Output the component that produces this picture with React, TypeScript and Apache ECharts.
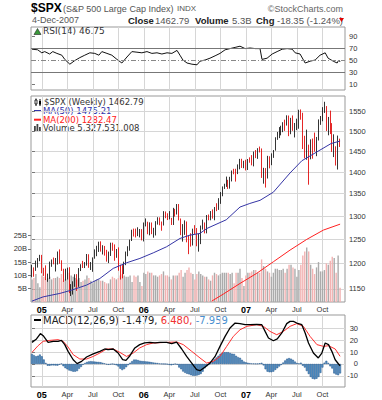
import React, { useEffect, useRef } from 'react';
import * as echarts from 'echarts';

// Weekly bars, index 0 = week of 2004-11-29, index 157 = week of 2007-12-03
const opens = [1182.65,1191.17,1188.00,1194.20,1210.13,
1211.92,1186.19,1184.52,1167.87,1171.36,1203.03,1205.30,1201.59,1211.37,1222.12,1200.08,1189.65,1171.42,1172.92,1191.14,1142.62,1152.12,1156.85,1171.35,1154.05,1189.28,1198.78,1196.02,1200.93,1216.96,1191.57,1194.44,1211.86,1227.92,1229.03,1234.18,1226.42,1230.39,1219.71,1205.10,1218.02,1241.48,1237.91,1215.29,1228.81,1195.90,1186.57,1179.59,1198.41,1220.14,1234.72,1248.27,1268.25,1265.08,1259.37,1267.32,1268.66,
1248.29,1285.45,1287.61,1261.49,1283.72,1264.03,1266.99,1287.24,1289.43,1287.23,1281.42,1307.25,1302.95,1294.83,1295.50,1289.12,1311.28,1310.61,1325.76,1291.24,1267.03,1280.16,1288.22,1252.30,1251.54,1244.50,1270.20,1265.48,1236.20,1240.29,1278.55,1279.36,1266.74,1302.30,1295.09,1311.01,1298.92,1319.66,1314.78,1335.85,1349.59,1365.62,1368.60,1377.34,1364.30,1380.90,1401.20,1400.95,1396.71,1409.84,1427.09,1410.76,
1418.30,1409.71,1430.73,1430.50,1422.18,1448.39,1438.06,1455.54,1451.19,1387.17,1402.84,1386.95,1436.11,1420.86,1443.76,1452.85,1484.35,1494.07,1505.62,1505.85,1522.75,1515.73,1536.34,1507.67,1532.91,1502.56,1503.35,1530.44,1552.50,1534.10,1458.95,1433.06,1453.64,1445.94,1479.37,1473.99,1453.55,1484.25,1525.75,1526.75,1557.59,1561.80,1500.63,1535.28,1509.65,1453.70,1458.74,1440.70,1481.14];
const highs = [1197.5,1192.4,1206.0,1211.4,1217.9,
1217.8,1191.6,1196.5,1180.0,1204.1,1208.4,1212.4,1211.4,1224.8,1229.1,1206.8,1189.7,1189.8,1191.9,1192.8,1159.3,1164.8,1178.7,1178.9,1191.1,1198.8,1205.6,1203.2,1219.6,1219.1,1203.3,1212.7,1229.2,1236.6,1245.2,1245.9,1237.8,1236.3,1228.2,1224.6,1243.1,1243.1,1239.5,1229.9,1233.3,1197.8,1197.1,1204.0,1224.7,1235.7,1249.6,1270.6,1272.9,1272.9,1275.8,1272.0,1271.8,
1286.1,1294.9,1287.8,1286.4,1286.1,1274.6,1289.0,1297.6,1297.2,1288.2,1310.9,1310.2,1306.2,1311.0,1296.1,1318.2,1316.0,1326.7,1326.7,1294.8,1282.6,1290.7,1288.3,1258.6,1263.0,1272.8,1280.4,1274.1,1262.0,1279.6,1292.3,1286.2,1302.4,1303.5,1311.1,1314.7,1320.0,1328.5,1339.9,1353.8,1366.6,1372.9,1389.5,1381.9,1388.9,1403.8,1407.9,1407.9,1418.3,1431.6,1431.8,1427.0,
1429.4,1431.2,1435.3,1440.7,1449.3,1453.0,1457.6,1461.6,1456.9,1410.2,1409.5,1438.9,1437.8,1444.9,1453.1,1484.7,1498.0,1510.3,1513.8,1522.8,1529.3,1540.6,1540.0,1534.0,1540.2,1520.8,1531.9,1555.1,1555.9,1547.2,1488.3,1503.9,1466.3,1479.4,1481.5,1496.4,1485.4,1530.0,1538.7,1561.9,1576.1,1564.7,1536.3,1552.8,1520.5,1492.1,1462.2,1488.9,1481.2];
const lows = [1172.8,1173.8,1185.5,1192.0,1204.9,
1180.6,1175.4,1167.2,1163.8,1169.5,1193.6,1198.6,1184.2,1198.1,1199.7,1185.4,1163.7,1166.2,1168.2,1141.9,1136.2,1139.1,1154.0,1146.2,1154.0,1185.1,1191.2,1191.1,1196.0,1191.5,1187.2,1183.6,1210.0,1215.1,1223.9,1224.5,1218.6,1216.3,1204.0,1201.1,1215.6,1226.2,1205.8,1211.8,1185.7,1168.2,1170.6,1178.9,1196.9,1215.1,1226.4,1246.6,1256.1,1254.1,1256.9,1254.2,1247.9,
1245.7,1277.6,1260.9,1258.6,1261.0,1253.6,1258.3,1281.5,1280.1,1268.4,1279.6,1295.4,1291.4,1292.9,1280.7,1280.7,1298.9,1303.5,1290.5,1259.0,1245.3,1259.6,1243.9,1219.3,1234.9,1237.2,1261.5,1235.6,1224.5,1240.1,1270.8,1262.7,1262.8,1290.8,1290.9,1294.5,1290.9,1310.9,1313.7,1327.1,1344.2,1360.9,1365.6,1360.9,1361.6,1378.2,1394.9,1377.8,1395.3,1406.6,1409.9,1409.2,
1403.9,1405.0,1422.3,1416.0,1413.6,1433.4,1431.6,1447.2,1386.4,1373.0,1364.0,1385.0,1408.9,1416.4,1434.0,1451.5,1478.2,1482.5,1489.5,1497.5,1500.6,1514.2,1487.4,1492.3,1500.8,1484.2,1502.6,1506.1,1529.2,1455.5,1432.8,1429.4,1370.6,1430.5,1432.0,1449.1,1438.1,1476.6,1516.0,1525.2,1546.7,1500.5,1489.6,1492.7,1448.5,1435.9,1415.6,1406.1,1460.6];
const closes = [1191.17,1188.00,1194.20,1210.13,1211.92,
1186.19,1184.52,1167.87,1171.36,1203.03,1205.30,1201.59,1211.37,1222.12,1200.08,1189.65,1171.42,1172.92,1191.14,1142.62,1152.12,1156.85,1171.35,1154.05,1189.28,1198.78,1196.02,1200.93,1216.96,1191.57,1194.44,1211.86,1227.92,1229.03,1234.18,1226.42,1230.39,1219.71,1205.10,1218.02,1241.48,1237.91,1215.29,1228.81,1195.90,1186.57,1179.59,1198.41,1220.14,1234.72,1248.27,1268.25,1265.08,1259.37,1267.32,1268.66,1248.29,
1285.45,1287.61,1261.49,1283.72,1264.03,1266.99,1287.24,1289.43,1287.23,1281.42,1307.25,1302.95,1294.83,1295.50,1289.12,1311.28,1310.61,1325.76,1291.24,1267.03,1280.16,1288.22,1252.30,1251.54,1244.50,1270.20,1265.48,1236.20,1240.29,1278.55,1279.36,1266.74,1302.30,1295.09,1311.01,1298.92,1319.66,1314.78,1335.85,1349.59,1365.62,1368.60,1377.34,1364.30,1380.90,1401.20,1400.95,1396.71,1409.84,1427.09,1410.76,1418.30,
1409.71,1430.73,1430.50,1422.18,1448.39,1438.06,1455.54,1451.19,1387.17,1402.84,1386.95,1436.11,1420.86,1443.76,1452.85,1484.35,1494.07,1505.62,1505.85,1522.75,1515.73,1536.34,1507.67,1532.91,1502.56,1503.35,1530.44,1552.50,1534.10,1458.95,1433.06,1453.64,1445.94,1479.37,1473.99,1453.55,1484.25,1525.75,1526.75,1557.59,1561.80,1500.63,1535.28,1509.65,1453.70,1458.74,1440.70,1481.14,1462.79];
// weekly volume, billions of shares
const volumes = [8.5,9,10.5,7,5.5,
10,9.5,8.5,9, 9.5,8.5,9,9, 9.5,9,10.5,8,8.5, 8.5,11,10,9.5, 9,8.5,9,7.5, 8,8.5,10,9,8, 7,8,8.5,8.5, 8,8,7.5,7, 7,8.5,9.5,9,8.5, 9,10,10.5,10, 9.5,9.5,10,7.5, 10,9.5,10,7.5,6,
11,10.5,11.5,11, 11,10,10,9.5, 10,10.5,11.5,10,10, 9.5,8.5,10,10, 10,11,12,9.5, 11,12,13,11,10.5, 8.5,10.5,11.5,10.5, 10,9.5,9.5,8.5, 8,10,11,10.5,10, 10.5,11,11,11, 11,10.5,11,7, 11,11,12.5,9,6,
10,11,11,11.5, 12,12,11,11, 16,13.5,12.5,11.5,11, 9.5,11,12.5,12.5, 12,12,12.5,11, 12.5,14,14,13,12.5, 9.5,12,14,17.5, 19,20.5,19,14,12.5, 10.5,13,15,11.5, 11.5,12,14.5,14, 15.5,17,16.5,11,17.5, 5.33];
// moving averages [week index, price]
const ma50 = [[0,1126.6],[5.7,1134.7],[14.2,1141.3],[20.2,1147.6],[27.8,1157.4],[34.6,1170.4],[41.4,1190.4],[48.2,1201.7],[55,1210.6],[61.8,1222],[68.6,1234.6],[75.4,1252],[80.5,1259],[85.6,1262.6],[89,1273],[99,1292],[106,1320],[111,1328],[116.2,1335],[123,1353.5],[131.5,1398],[137.5,1427],[145.2,1448.5],[152.4,1469],[157,1475.21]];
const ma200 = [[91.6,1126.6],[97.5,1140],[106,1160.6],[114.5,1180.5],[123,1203.8],[131.5,1227.7],[140,1250],[148.5,1269.8],[157,1282.47]];
const rsi = [[0,68],[2.9,67],[5,62],[6.5,64],[9,60],[10.6,64],[12.7,61],[15.2,58],[16.7,51],[19.3,43],[21.8,49],[24.4,54],[26.9,58],[29.5,62],[32,61],[34.1,58],[35.6,64],[38.2,61],[40.7,58],[43.3,51],[45.8,45],[48.4,55],[50.9,64],[53.5,63],[56,62],[58.6,64],[61.1,61],[63.7,62],[66.2,60],[68.8,62],[71.3,61],[73.9,66],[75.4,58],[76.9,50],[79,45],[81.5,43],[84.1,42],[85.6,48],[88.2,50],[90.7,53],[93.3,57],[95.8,61],[98.4,67],[100.9,69],[103.5,71],[106,73],[108.6,69],[111.1,70],[113.8,69],[116.2,69],[117.2,51],[119.8,53],[122.4,60],[124.9,64],[127.5,68],[130,69],[132.6,68],[134.1,62],[136.6,60],[139.2,45],[141.7,48],[144.3,50],[146.8,58],[149.4,62],[150.9,53],[153.5,48],[155.5,45],[156.3,50],[157,46.75]];
const macd = [[0,18.3],[2.3,21.2],[4.3,25.7],[5.7,24],[8.2,18.3],[10.8,19.2],[13.3,19.2],[15,20],[16.7,16.4],[18.4,10.7],[21,3.6],[23,0.3],[25.3,2.2],[27.8,5.9],[31.2,8.5],[34.6,10.7],[37.1,12.7],[38.8,12.1],[41.4,12.7],[43.9,9.3],[46.2,3.6],[47.9,3.1],[49.9,7],[52.4,13.6],[54.9,16.4],[57.4,17.8],[60,18.3],[62.7,17.8],[65.2,18.3],[68.6,18.3],[71.2,17.2],[73.7,18.6],[76.3,12.7],[78.8,6.4],[81.4,0.8],[83.9,-4.8],[85.6,-5.7],[88.2,-2.5],[90.7,0.8],[93.3,6.4],[95.8,14.9],[98.4,23.4],[100.9,30.5],[103.5,34.7],[106,34.2],[108.6,33.3],[111.1,33.3],[114.5,33.6],[117.1,33.3],[118.8,27.6],[120.5,22],[123,19.7],[125,21.2],[127.3,26.3],[129.8,34.2],[131.5,36.1],[133.2,36.1],[134.9,34.7],[137.5,33.3],[139.2,26.3],[140.9,17.8],[143.4,9.3],[145.9,5.1],[147.7,9.3],[149.4,17.8],[151.1,16.4],[152.8,10.7],[154.5,3.6],[156.2,0],[157,-1.479]];
const signal = [[0,9.8],[3.1,15.5],[5.7,19.2],[9.1,20],[13.3,20.6],[15.9,19.2],[18.4,14.4],[21,7.9],[24.4,4.2],[27.8,4.2],[31.2,6.4],[34.6,9.3],[38,12.7],[41.4,12.7],[44.8,9.8],[48.2,6.4],[51.6,9.3],[54.9,13.6],[58.4,16.4],[61.8,17.8],[68.6,18.3],[73.7,18.6],[77.1,16.4],[81.4,10.7],[85.6,5.1],[89,0.8],[92.4,2.2],[95.8,6.4],[99.2,14.9],[102.6,23.4],[106,29],[109.5,31.9],[114.5,33.3],[117.9,31.9],[121.3,27.6],[124.7,24.8],[128.1,27.6],[131.5,31.9],[134.9,34.2],[138.3,31.9],[141.7,23.4],[145.2,16.4],[148.6,14.9],[151.1,15.5],[154.5,12.7],[157,6.48]];
const hist = [8.5,7.5,6.5,7,8,6.5,3.8,0.9,-1.5,-1.5,
-1.2,-1.2,-1.3,-1.4,-0.6,0.3,-1.9,-3.5,-4.5,-5.5,
-6,-6.5,-6.5,-6,-4,-2.5,-0.7,0.8,1.7,2.2,
2.4,2.2,2,1.8,1.7,1.5,1,0.5,-0.4,-0.7,
-0.4,0,-0.5,-1.1,-2.1,-4,-5.2,-4.3,-2.7,-1,
1,2.4,3.7,3.7,3.3,2.8,2.5,2.4,2.2,2,
1.8,1.5,1.2,1,0.8,0.4,0.2,0.1,0,-0.3,
-0.8,-1.1,-0.6,-0.1,-0.6,-3,-4.5,-6.4,-7.5,-8.3,
-8.8,-9.5,-10,-10,-9.8,-9.3,-8.5,-6.5,-3.7,-2,
-0.9,0.5,2,3.9,5.5,7,8.5,9.5,10,10,
10,9.3,8.7,8.5,6.9,5.8,5.2,3.5,2,1.4,
1,0.7,0.5,0.4,0.3,0.3,0.6,1,-1.2,-4.5,
-6.5,-7,-7,-6.5,-5,-3.6,-2.1,-0.8,1.2,3,
4.5,5,4.5,3.5,2,0.8,0.5,1.1,-1.5,-3,
-6,-8.5,-11,-12.5,-13,-12.5,-11,-7.6,-3,1.1,
2.7,0.9,-2,-3.8,-8,-9,-9.5,-7.959];

const quarterIdx = [5, 18, 31, 44, 57, 70, 83, 96, 109, 122, 135, 148];
const quarterLbl = ['05', 'Apr', 'Jul', 'Oct', '06', 'Apr', 'Jul', 'Oct', '07', 'Apr', 'Jul', 'Oct'];
const priceTicks = [1150, 1200, 1250, 1300, 1350, 1400, 1450, 1500, 1550];
const volTicks = [5, 10, 15, 20, 25];
const rsiTicks = [10, 30, 50, 70, 90];
const macdTicks = [-10, 0, 10, 20, 30];

const AX = '"Liberation Sans", Arial, sans-serif';
const LG = '"DejaVu Sans", Verdana, sans-serif';
const GRID_C = '#d6d6d6';
const L = 31, R = 37;

function xAxisCfg(gridIndex: number, labels: boolean) {
  return {
    type: 'value', gridIndex, min: -0.5, max: 159.5,
    axisLine: { show: false },
    axisTick: { show: false, customValues: quarterIdx },
    axisLabel: {
      show: labels, customValues: quarterIdx, margin: 3,
      formatter: (v: number) => {
        const k = quarterIdx.indexOf(Math.round(v));
        if (k < 0) return '';
        const s = quarterLbl[k];
        return /^\d/.test(s) ? '{y|' + s + '}' : '{m|' + s + '}';
      },
      rich: {
        y: { fontFamily: AX, fontWeight: 'bold', fontSize: 9, color: '#000' },
        m: { fontFamily: AX, fontSize: 7.5, color: '#333' },
      },
    },
    splitLine: { show: true, lineStyle: { color: GRID_C, width: 1 } },
  };
}

function txt(x: number, y: number, text: string, font: string, fill: string, align = 'left', rich?: any) {
  const style: any = { text, font, fill, textAlign: align, align, textVerticalAlign: 'middle', verticalAlign: 'middle' };
  if (rich) style.rich = rich;
  return { type: 'text', x, y, silent: true, style };
}

function buildOption() {
  const ln = Math.log;
  const candles = closes.map((c, i) => [i, ln(opens[i]), ln(c), ln(lows[i]), ln(highs[i])]);
  const volData = volumes.map((v, i) => {
    const prev = i > 0 ? closes[i - 1] : opens[0];
    return { value: [i, v], itemStyle: { color: closes[i] >= prev ? '#ababab' : '#f2b2b2' } };
  });
  const histData = hist.map((h, i) => [i, h]);
  const yLabel = { fontFamily: AX, fontSize: 7.5, color: '#333' };
  const yTick = { show: true, length: 3, lineStyle: { color: '#777' } };
  const LF = '8.5px ' + LG;

  const graphics: any[] = [
    txt(31, 8, '$SPX', 'bold 12px ' + AX, '#000'),
    txt(63, 8.5, '(S&P 500 Large Cap Index)', '9px ' + AX, '#555'),
    txt(177, 8.5, 'INDX', '8px ' + AX, '#555'),
    txt(343, 8.5, '\u00a9StockCharts.com', '9px ' + AX, '#666', 'right'),
    txt(32, 20, '4-Dec-2007', '9px ' + AX, '#555'),
    txt(128, 20, 'Close', 'bold 9.5px ' + AX, '#222'),
    txt(155, 20, '1462.79', '9.5px ' + AX, '#555'),
    txt(195, 20, 'Volume', 'bold 9.5px ' + AX, '#222'),
    txt(232, 20, '5.3B', '9.5px ' + AX, '#555'),
    txt(256, 20, 'Chg', 'bold 9.5px ' + AX, '#222'),
    txt(277, 20, '-18.35 (-1.24%)', '9.5px ' + AX, '#555'),
    { type: 'polygon', silent: true, shape: { points: [[339, 18], [344, 18], [341.5, 22]] }, style: { fill: '#e00000' } },
    // RSI legend
    { type: 'polygon', silent: true, shape: { points: [[34, 34.5], [37.5, 28.5], [41, 34.5]] }, style: { fill: '#3a9a3a', stroke: '#222', lineWidth: 0.6 } },
    txt(43, 31, 'RSI(14) 46.75', '9px ' + LG, '#333'),
    // price legend
    { type: 'line', silent: true, shape: { x1: 36, y1: 98.5, x2: 36, y2: 106 }, style: { stroke: '#000', lineWidth: 1 } },
    { type: 'rect', silent: true, shape: { x: 35, y: 100, width: 2, height: 4 }, style: { fill: '#fff', stroke: '#000', lineWidth: 0.8 } },
    { type: 'line', silent: true, shape: { x1: 40, y1: 99, x2: 40, y2: 106 }, style: { stroke: '#000', lineWidth: 1 } },
    { type: 'rect', silent: true, shape: { x: 39, y: 101, width: 2, height: 3.5 }, style: { fill: '#000' } },
    txt(44, 102, '$SPX (Weekly) 1462.79', LF, '#333'),
    { type: 'line', silent: true, shape: { x1: 34, y1: 111, x2: 41, y2: 111 }, style: { stroke: '#3333aa', lineWidth: 2 } },
    txt(43, 111, 'MA(50) 1475.21', LF, '#3333aa'),
    { type: 'line', silent: true, shape: { x1: 34, y1: 119.7, x2: 41, y2: 119.7 }, style: { stroke: '#ff2020', lineWidth: 2 } },
    txt(43, 119.7, 'MA(200) 1282.47', LF, '#ff2020'),
    { type: 'rect', silent: true, shape: { x: 34, y: 126, width: 1.8, height: 5 }, style: { fill: '#444' } },
    { type: 'rect', silent: true, shape: { x: 36.5, y: 124, width: 1.8, height: 7 }, style: { fill: '#444' } },
    { type: 'rect', silent: true, shape: { x: 39, y: 127, width: 1.8, height: 4 }, style: { fill: '#444' } },
    txt(43, 128.4, 'Volume 5,327,531,008', LF, '#333'),
    // MACD legend
    { type: 'line', silent: true, shape: { x1: 34, y1: 320, x2: 41, y2: 320 }, style: { stroke: '#000', lineWidth: 2 } },
    txt(43, 320, '{k|MACD(12,26,9) -1.479,} {r|6.480,} {b|-7.959}', '10px ' + LG, '#000', 'left', {
      k: { fill: '#222', font: '10px ' + LG },
      r: { fill: '#f03030', font: '10px ' + LG },
      b: { fill: '#4a90d0', font: '10px ' + LG },
    }),
  ];

  return {
    animation: false,
    backgroundColor: '#fff',
    grid: [
      { left: L, right: R, top: 27, height: 63, show: true, borderColor: '#999', borderWidth: 1, containLabel: false, outerBoundsMode: 'none' },
      { left: L, right: R, top: 96, height: 206, show: true, borderColor: '#999', borderWidth: 1, containLabel: false, outerBoundsMode: 'none' },
      { left: L, right: R, top: 315, height: 72, show: true, borderColor: '#999', borderWidth: 1, containLabel: false, outerBoundsMode: 'none' },
    ],
    xAxis: [xAxisCfg(0, false), xAxisCfg(1, true), xAxisCfg(2, true)],
    yAxis: [
      {
        type: 'value', gridIndex: 0, position: 'right', min: 0, max: 105,
        axisLine: { show: false }, axisTick: { ...yTick, customValues: rsiTicks },
        axisLabel: { ...yLabel, customValues: rsiTicks, margin: 4 },
        splitLine: { show: false },
      },
      {
        type: 'value', gridIndex: 1, position: 'right', min: ln(1124.9), max: ln(1591.5),
        axisLine: { show: false }, axisTick: { ...yTick, customValues: priceTicks.map(ln) },
        axisLabel: { ...yLabel, customValues: priceTicks.map(ln), margin: 4, formatter: (v: number) => String(Math.round(Math.exp(v))) },
        splitLine: { show: true, lineStyle: { color: GRID_C, width: 1 } },
      },
      {
        type: 'value', gridIndex: 1, position: 'left', min: 0, max: 77.4,
        axisLine: { show: false }, axisTick: { ...yTick, customValues: volTicks },
        axisLabel: { ...yLabel, customValues: volTicks, margin: 4, formatter: (v: number) => v + 'B' },
        splitLine: { show: false },
      },
      {
        type: 'value', gridIndex: 2, position: 'right', min: -19.5, max: 41.5,
        axisLine: { show: false }, axisTick: { ...yTick, customValues: macdTicks },
        axisLabel: { ...yLabel, customValues: macdTicks, margin: 13, align: 'right' },
        splitLine: { show: true, lineStyle: { color: GRID_C, width: 1 } },
      },
    ],
    series: [
      { type: 'bar', name: 'Volume', xAxisIndex: 1, yAxisIndex: 2, data: volData, barWidth: 1.4, silent: true },
      {
        type: 'candlestick', name: '$SPX', xAxisIndex: 1, yAxisIndex: 1, data: candles, barWidth: 1.0, silent: true,
        itemStyle: { color: '#ffffff', color0: '#e00000', borderColor: '#111111', borderColor0: '#e00000', borderWidth: 0.85 },
      },
      { type: 'line', name: 'MA200', xAxisIndex: 1, yAxisIndex: 1, data: ma200.map(p => [p[0], ln(p[1])]), showSymbol: false, silent: true, lineStyle: { color: '#ff2020', width: 1 } },
      { type: 'line', name: 'MA50', xAxisIndex: 1, yAxisIndex: 1, data: ma50.map(p => [p[0], ln(p[1])]), showSymbol: false, silent: true, lineStyle: { color: '#3535a5', width: 1 } },
      {
        type: 'line', name: 'RSI', xAxisIndex: 0, yAxisIndex: 0, data: rsi, showSymbol: false, silent: true,
        lineStyle: { color: '#111', width: 1 },
        markLine: {
          silent: true, symbol: ['none', 'none'], label: { show: false }, animation: false,
          lineStyle: { color: '#777', width: 1, type: 'solid' },
          data: [{ yAxis: 70 }, { yAxis: 30 }, { yAxis: 50, lineStyle: { type: [5, 2, 1, 2], color: '#888' } }],
        },
      },
      {
        type: 'bar', name: 'Hist', xAxisIndex: 2, yAxisIndex: 3, data: histData, barWidth: 1.9, silent: true,
        itemStyle: { color: '#5b9bd0', borderColor: '#1d4f85', borderWidth: 0.5 },
      },
      { type: 'line', name: 'Signal', xAxisIndex: 2, yAxisIndex: 3, data: signal, showSymbol: false, silent: true, lineStyle: { color: '#ff3030', width: 1 } },
      { type: 'line', name: 'MACD', xAxisIndex: 2, yAxisIndex: 3, data: macd, showSymbol: false, silent: true, lineStyle: { color: '#000', width: 1.3 } },
    ],
    graphic: { elements: graphics },
  };
}

export default function App() {
  const ref = useRef<HTMLDivElement>(null);
  useEffect(() => {
    const chart = echarts.init(ref.current as HTMLDivElement, null, { renderer: 'svg' });
    chart.setOption(buildOption() as any);
    return () => chart.dispose();
  }, []);
  return <div ref={ref} style={{ position: 'fixed', left: 0, top: 0, width: 382, height: 400, background: '#fff' }} />;
}
